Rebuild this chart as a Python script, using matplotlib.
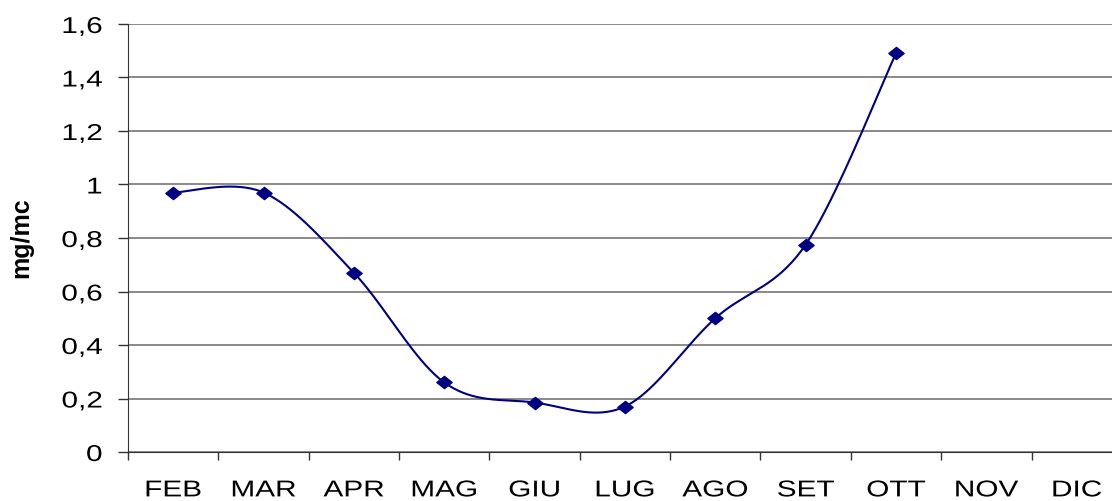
import matplotlib
matplotlib.use("Agg")
import matplotlib.pyplot as plt
import numpy as np
from matplotlib.patheffects import AbstractPathEffect
from matplotlib.path import Path
from matplotlib.transforms import Affine2D

months = ["FEB", "MAR", "APR", "MAG", "GIU", "LUG", "AGO", "SET", "OTT", "NOV", "DIC"]
values = [0.97, 0.97, 0.67, 0.26, 0.185, 0.17, 0.50, 0.775, 1.49]
y_ticks = [0, 0.2, 0.4, 0.6, 0.8, 1.0, 1.2, 1.4, 1.6]
y_labels = ["0", "0,2", "0,4", "0,6", "0,8", "1", "1,2", "1,4", "1,6"]

plt.rcParams["font.family"] = ["Liberation Sans", "DejaVu Sans"]

LINE_COLOR = "#000080"


class Stretch(AbstractPathEffect):
    # widen glyphs horizontally, the reference text is stretched
    def __init__(self, sx, anchor=0.5):
        super().__init__()
        self.sx = sx
        self.anchor = anchor

    def draw_path(self, renderer, gc, tpath, affine, rgbFace=None):
        ext = tpath.get_extents()
        cx = ext.x0 + self.anchor * (ext.x1 - ext.x0)
        tr = Affine2D().translate(-cx, 0).scale(self.sx, 1).translate(cx, 0) + affine
        renderer.draw_path(gc, tpath, tr, rgbFace)


def smooth_curve(xs, ys, n=40):
    # Excel-style smoothed line: cubic Bezier with Catmull-Rom control points
    pts = np.column_stack([xs, ys]).astype(float)
    out = [pts[0]]
    t = np.linspace(0, 1, n)[1:, None]
    for i in range(len(pts) - 1):
        p0 = pts[i - 1] if i > 0 else pts[i]
        p1 = pts[i]
        p2 = pts[i + 1]
        p3 = pts[i + 2] if i + 2 < len(pts) else pts[i + 1]
        c1 = p1 + (p2 - p0) / 6
        c2 = p2 - (p3 - p1) / 6
        seg = ((1 - t) ** 3) * p1 + 3 * ((1 - t) ** 2) * t * c1 + 3 * (1 - t) * t ** 2 * c2 + t ** 3 * p2
        out.extend(seg)
    out = np.array(out)
    return out[:, 0], out[:, 1]


diamond = Path([(-1, 0), (0, 0.8), (1, 0), (0, -0.8), (-1, 0)],
               [Path.MOVETO, Path.LINETO, Path.LINETO, Path.LINETO, Path.CLOSEPOLY])

fig = plt.figure(figsize=(11.12, 5.01), dpi=100)
ax = fig.add_axes([128 / 1112, 49 / 501, 11 * 90.35 / 1112, 428 / 501])

x = np.arange(len(values))
sx, sy = smooth_curve(x, values)
ax.plot(sx, sy, color=LINE_COLOR, lw=1.5, zorder=3)
ax.plot(x, values, linestyle="none", marker=diamond, markersize=11,
        color=LINE_COLOR, zorder=4)

ax.set_xlim(-0.5, len(months) - 0.5)
ax.set_ylim(0, 1.6)

ax.set_yticks(y_ticks)
ax.set_yticklabels(y_labels, fontsize=16.5)
ax.tick_params(axis="y", direction="out", length=7, width=1, pad=11.5, color="#333333")

ax.set_xticks(np.arange(len(months) + 1) - 0.5)
ax.set_xticklabels([])
ax.tick_params(axis="x", which="major", direction="out", length=6, width=1, color="#333333")
ax.set_xticks(np.arange(len(months)), minor=True)
ax.set_xticklabels(months, minor=True, fontsize=16.5)
ax.tick_params(axis="x", which="minor", length=0, pad=19)

ax.yaxis.grid(True, color="#808080", lw=1.3)
ax.set_axisbelow(True)

for side in ["top", "right"]:
    ax.spines[side].set_visible(False)
ax.spines["left"].set_color("#333333")
ax.spines["bottom"].set_color("#333333")

fig.text(21 / 1112, 1 - 238 / 501, "mg/mc", rotation=90, ha="center", va="center",
         fontsize=18, fontweight="bold")

fig.canvas.draw()
for lbl in ax.get_yticklabels():
    lbl.set_path_effects([Stretch(1.3, anchor=1.0)])
for lbl in ax.get_xticklabels(minor=True):
    lbl.set_path_effects([Stretch(1.3, anchor=0.5)])

fig.savefig("out.png", dpi=100)
